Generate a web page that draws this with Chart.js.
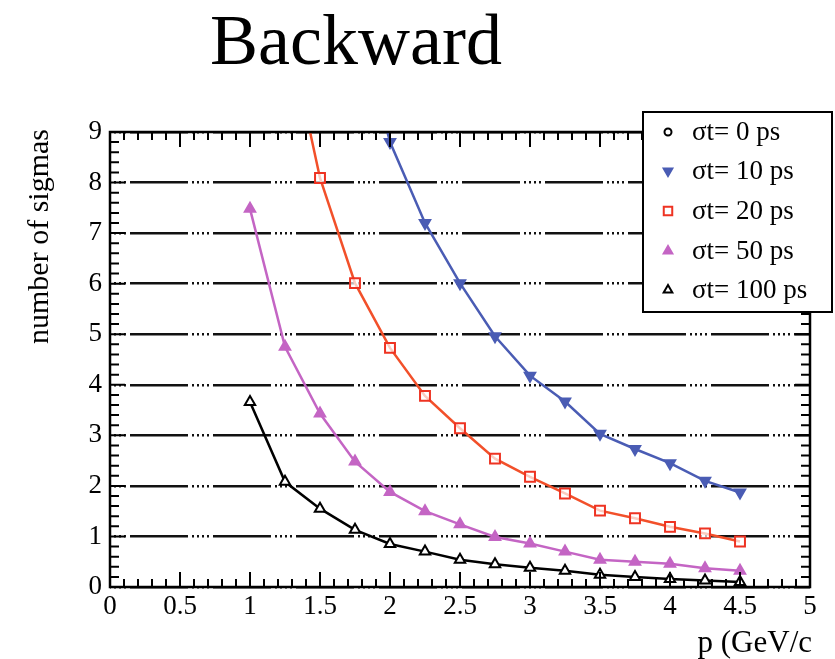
<!DOCTYPE html>
<html lang="en">
<head>
    <meta charset="UTF-8">
    <title>Backward</title>
    <script src="https://cdn.jsdelivr.net/npm/chart.js"></script>
    <style>
        html, body { margin: 0; padding: 0; background: #fff; }
        .grafico { width: 835px; height: 659px; }
    </style>
</head>
<body>
    <div class="grafico">
        <canvas id="sigmasChart" width="835" height="659"></canvas>
    </div>

    <script>
        // valores
        const momentos = [1, 1.25, 1.5, 1.75, 2, 2.25, 2.5, 2.75, 3, 3.25, 3.5, 3.75, 4, 4.25, 4.5];
        const sigmas0 = [];
        const sigmas10 = [null, null, null, 11.5, 8.8, 7.2, 6.01, 4.96, 4.18, 3.67, 3.03, 2.73, 2.45, 2.10, 1.87];
        const sigmas20 = [null, 11.3, 8.09, 6.01, 4.73, 3.78, 3.14, 2.54, 2.18, 1.85, 1.51, 1.36, 1.19, 1.06, 0.90];
        const sigmas50 = [7.48, 4.75, 3.43, 2.48, 1.88, 1.50, 1.24, 0.99, 0.86, 0.70, 0.54, 0.50, 0.46, 0.37, 0.32];
        const sigmas100 = [3.66, 2.08, 1.55, 1.13, 0.85, 0.70, 0.54, 0.45, 0.38, 0.32, 0.24, 0.20, 0.16, 0.13, 0.10];
        const rotulos = ['σt= 0 ps', 'σt= 10 ps', 'σt= 20 ps', 'σt= 50 ps', 'σt= 100 ps'];

        const serif = '"Liberation Serif", "DejaVu Serif", serif';

        function pontos(valores) {
            return valores.map((v, i) => ({ x: momentos[i], y: v })).filter(p => p.y !== null);
        }

        const estilos = [
            { cor: '#000000', fundo: '#ffffff', ponto: 'circle', raio: 4, rot: 0 },
            { cor: '#4a5cb4', fundo: '#4a5cb4', ponto: 'triangle', raio: 6, rot: 180 },
            { cor: '#f2502a', fundo: 'rgba(255,255,255,0.7)', ponto: 'rect', raio: 7, rot: 0, borda: '#ee3322' },
            { cor: '#c465c4', fundo: '#c465c4', ponto: 'triangle', raio: 6, rot: 0 },
            { cor: '#000000', fundo: '#ffffff', ponto: 'triangle', raio: 6, rot: 0 }
        ];
        const series = [sigmas0, sigmas10, sigmas20, sigmas50, sigmas100];

        // moldura, marcas de escala, títulos e legenda
        const moldura = {
            id: 'moldura',
            beforeDraw(chart) {
                const ctx = chart.ctx;
                ctx.save();
                ctx.fillStyle = '#fff';
                ctx.fillRect(0, 0, chart.width, chart.height);
                ctx.restore();
            },
            afterDatasetsDraw(chart) {
                const { ctx, chartArea: a, scales: { x, y } } = chart;
                ctx.save();
                ctx.strokeStyle = '#000';
                ctx.lineWidth = 2;
                ctx.beginPath();
                for (let i = 0; i <= 50; i++) {
                    const px = x.getPixelForValue(i / 10);
                    const len = i % 5 === 0 ? 15 : 8;
                    ctx.moveTo(px, a.bottom); ctx.lineTo(px, a.bottom - len);
                    ctx.moveTo(px, a.top); ctx.lineTo(px, a.top + len);
                }
                for (let i = 0; i <= 45; i++) {
                    const py = y.getPixelForValue(i / 5);
                    const len = i % 5 === 0 ? 15 : 9;
                    ctx.moveTo(a.left, py); ctx.lineTo(a.left + len, py);
                    ctx.moveTo(a.right, py); ctx.lineTo(a.right - len, py);
                }
                ctx.stroke();
                ctx.lineWidth = 2.5;
                ctx.strokeRect(a.left, a.top, a.right - a.left, a.bottom - a.top);

                // títulos
                ctx.fillStyle = '#000';
                ctx.font = '72px ' + serif;
                ctx.textAlign = 'center';
                ctx.textBaseline = 'alphabetic';
                ctx.fillText('Backward', 356, 64);

                ctx.font = '31px ' + serif;
                ctx.textAlign = 'right';
                ctx.fillText('p (GeV/c', 812, 652);

                ctx.save();
                ctx.translate(40, 129);
                ctx.rotate(-Math.PI / 2);
                ctx.textAlign = 'right';
                ctx.textBaseline = 'middle';
                ctx.font = '30px ' + serif;
                ctx.fillText('number of sigmas', 0, 0);
                ctx.restore();

                // legenda
                const lx = 643, ly = 112, lw = 189, lh = 200;
                ctx.fillStyle = '#fff';
                ctx.fillRect(lx, ly, lw, lh);
                ctx.lineWidth = 2;
                ctx.strokeStyle = '#000';
                ctx.strokeRect(lx, ly, lw, lh);
                const linhas = [132, 171, 211, 251, 290];
                estilos.forEach((e, i) => {
                    ctx.fillStyle = e.fundo;
                    ctx.strokeStyle = e.borda || e.cor;
                    ctx.lineWidth = 2;
                    Chart.helpers.drawPoint(ctx, {
                        pointStyle: e.ponto,
                        radius: e.ponto === 'rect' ? 6 : (i === 0 ? 3.5 : 5),
                        rotation: e.rot,
                        borderWidth: 2
                    }, 668, linhas[i]);
                    ctx.fillStyle = '#000';
                    ctx.font = '27px ' + serif;
                    ctx.textAlign = 'left';
                    ctx.textBaseline = 'middle';
                    ctx.fillText(rotulos[i], 692, linhas[i] + 1);
                });
                ctx.restore();
            }
        };

        const ctx = document.getElementById('sigmasChart').getContext('2d');
        const grafico = new Chart(ctx, {
            type: 'line',
            data: {
                datasets: series.map((s, i) => ({
                    label: rotulos[i],
                    data: pontos(s),
                    borderColor: estilos[i].cor,
                    backgroundColor: estilos[i].fundo,
                    pointBorderColor: estilos[i].borda || estilos[i].cor,
                    pointBackgroundColor: estilos[i].fundo,
                    pointStyle: estilos[i].ponto,
                    pointRotation: estilos[i].rot,
                    pointRadius: estilos[i].raio,
                    pointBorderWidth: 2,
                    borderWidth: 2.5,
                    tension: 0,
                    fill: false
                }))
            },
            options: {
                responsive: false,
                animation: false,
                layout: { padding: { top: 132, right: 25, left: 0, bottom: 0 } },
                scales: {
                    x: {
                        type: 'linear',
                        min: 0,
                        max: 5,
                        afterFit: s => { s.height = 72; },
                        ticks: {
                            stepSize: 0.5,
                            padding: 4,
                            color: '#000',
                            font: { family: serif, size: 27 },
                            maxRotation: 0,
                            callback: v => String(Number(v))
                        },
                        grid: { display: false, drawTicks: false },
                        border: { display: false }
                    },
                    y: {
                        min: 0,
                        max: 9,
                        afterFit: s => { s.width = 110; },
                        ticks: {
                            stepSize: 1,
                            padding: 8,
                            color: '#000',
                            font: { family: serif, size: 27 }
                        },
                        grid: { color: '#111', lineWidth: 2.5, drawTicks: false },
                        border: { display: false, dash: [58, 4, 2, 3, 2, 3, 2, 3, 2, 4], dashOffset: 63 }
                    }
                },
                plugins: {
                    legend: { display: false },
                    title: { display: false },
                    tooltip: { enabled: false }
                }
            },
            plugins: [moldura]
        });
    </script>
</body>
</html>
